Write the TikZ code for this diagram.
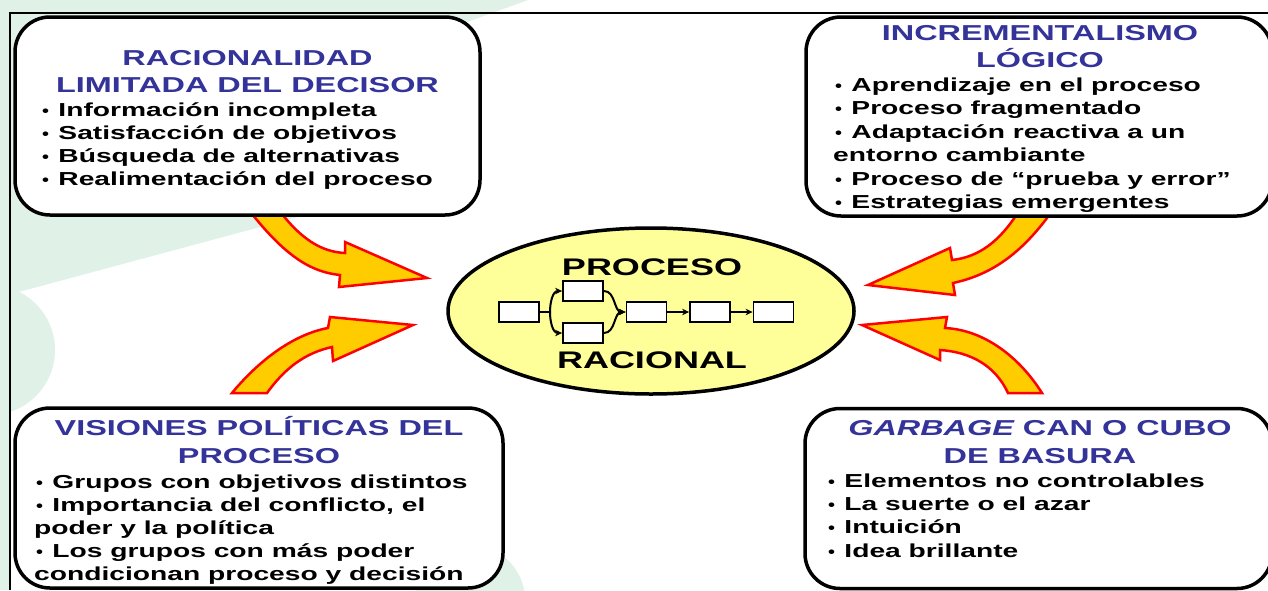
\documentclass[tikz,border=0pt]{standalone}
\usepackage{graphicx}
\usepackage{fontspec}
\setmainfont{Liberation Sans}[FakeStretch=1.5]
\usetikzlibrary{shapes.geometric,arrows.meta}
\definecolor{hblue}{RGB}{51,51,153}
\definecolor{bggreen}{RGB}{224,242,232}
\definecolor{ellfill}{RGB}{255,255,153}
\definecolor{arrfill}{RGB}{255,204,0}
\newcommand\bul{\scalebox{0.7}[0.85]{\textbullet}\hspace{1.5pt}}
\tikzset{
 box/.style={draw=black, fill=white, line width=3.5pt, rounded corners=35pt, inner sep=0pt},
 head/.style={font=\fontsize{21.6}{27}\selectfont\bfseries, text=hblue, inner sep=0pt, anchor=base},
 item/.style={font=\fontsize{18.8}{23}\selectfont\bfseries, inner sep=0pt, anchor=base west},
 bigarrow/.style={fill=arrfill, draw=red, line width=2.5pt, line join=miter},
 mini/.style={draw, fill=white, line width=1.8pt, minimum width=40pt, minimum height=20pt, inner sep=0pt},
 flow/.style={line width=2pt, -{Stealth[length=7pt,width=6.5pt]}},
 bigtext/.style={font=\fontsize{24}{28}\selectfont\bfseries, inner sep=0pt, anchor=base},
}
\begin{document}
\begin{tikzpicture}[x=1pt,y=-1pt]
\useasboundingbox (0,0) rectangle (1268,590);
\fill[white] (0,0) rectangle (1268,590);
% background decoration
\fill[bggreen] (0,0) -- (528,0) -- (445,30) -- (420,184) -- (0,297) -- cycle;
\fill[bggreen] (-10,350) circle[radius=65pt];
\fill[bggreen] (0,0) rectangle (10,590);
\fill[bggreen] (470,600) circle[radius=55pt];
% frame
\draw[line width=2.5pt] (10,590) -- (10,13) -- (1268,13);

% big curved arrows
\path[bigarrow] (252,214) .. controls (285,255) and (310,272) .. (340,275) -- (339,287) -- (427,278) -- (345,242) -- (345,253) .. controls (325,252) and (305,243) .. (282,214) -- cycle;
\path[bigarrow] (232,393) .. controls (255,365) and (290,335) .. (328,328) -- (330,317) -- (413,325) -- (333,361) -- (332,347) .. controls (305,353) and (285,368) .. (267,393) -- cycle;
\path[bigarrow] (1017,214) .. controls (1000,240) and (980,257) .. (952,260) -- (950,248) -- (868,285) -- (955,295) -- (953,283) .. controls (990,275) and (1020,255) .. (1050,214) -- cycle;
\path[bigarrow] (1008,393) .. controls (995,365) and (970,352) .. (940,350) -- (940,360) -- (862,325) -- (947,317) -- (945,328) .. controls (985,330) and (1020,358) .. (1042,393) -- cycle;

% central ellipse
\node[ellipse, draw, fill=ellfill, line width=3.5pt, minimum width=406pt, minimum height=166pt, inner sep=0pt] (ell) at (651,311) {};
\node[bigtext] (pro) at (652,275) {PROCESO};
\node[bigtext] (rac) at (652,368) {RACIONAL};
\node[mini] (b1) at (519,312) {};
\node[mini] (ub) at (583,291) {};
\node[mini] (lb) at (583,333) {};
\node[mini] (b3) at (646.5,312) {};
\node[mini] (b4) at (710,312) {};
\node[mini] (b5) at (773.5,312) {};
\coordinate (j1) at (550,312);
\draw[line width=2pt] (b1.east) -- (j1);
\draw[flow] (j1) to[out=90,in=180] (ub.west);
\draw[flow] (j1) to[out=-90,in=180] (lb.west);
\draw[flow] (ub.east) to[out=0,in=180] (b3.west);
\draw[flow] (lb.east) to[out=0,in=180] (b3.west);
\draw[flow] (b3) -- (b4);
\draw[flow] (b4) -- (b5);

% boxes
\node[box, minimum width=465pt, minimum height=198pt] (tl) at (247.5,116) {};
\node[box, minimum width=466pt, minimum height=199pt] (tr) at (1039,116.5) {};
\node[box, minimum width=488pt, minimum height=180pt] (bl) at (259,498) {};
\node[box, minimum width=467pt, minimum height=180pt] (br) at (1038.5,498.5) {};

% top-left text
\node[head] (tlh1) at (247.5,65) {RACIONALIDAD};
\node[head] (tlh2) at (247.5,92) {LIMITADA DEL DECISOR};
\node[item] (tli1) at (42,116) {\bul{} Información incompleta};
\node[item] (tli2) at (42,139) {\bul{} Satisfacción de objetivos};
\node[item] (tli3) at (42,162) {\bul{} Búsqueda de alternativas};
\node[item] (tli4) at (42,185) {\bul{} Realimentación del proceso};

% top-right text
\node[head] (trh1) at (1040,40) {INCREMENTALISMO};
\node[head] (trh2) at (1040,67) {LÓGICO};
\node[item] (tri1) at (835,91) {\bul{} Aprendizaje en el proceso};
\node[item] (tri2) at (835,114.5) {\bul{} Proceso fragmentado};
\node[item] (tri3) at (835,138) {\bul{} Adaptación reactiva a un};
\node[item] (tri4) at (833,161.5) {entorno cambiante};
\node[item] (tri5) at (835,185) {\bul{} Proceso de “prueba y error”};
\node[item] (tri6) at (835,208) {\bul{} Estrategias emergentes};

% bottom-left text
\node[head] (blh1) at (259,435) {VISIONES POLÍTICAS DEL};
\node[head] (blh2) at (259,463) {PROCESO};
\node[item] (bli1) at (36,488) {\bul{} Grupos con objetivos distintos};
\node[item] (bli2) at (36,511.5) {\bul{} Importancia del conflicto, el};
\node[item] (bli3) at (34,534) {poder y la política};
\node[item] (bli4) at (36,557) {\bul{} Los grupos con más poder};
\node[item] (bli5) at (34,580) {condicionan proceso y decisión};

% bottom-right text
\node[head] (brh1) at (1040,435) {{\itshape GARBAGE} CAN O CUBO};
\node[head] (brh2) at (1040,463) {DE BASURA};
\node[item] (bri1) at (828,487) {\bul{} Elementos no controlables};
\node[item] (bri2) at (828,510) {\bul{} La suerte o el azar};
\node[item] (bri3) at (828,533) {\bul{} Intuición};
\node[item] (bri4) at (828,557) {\bul{} Idea brillante};
\end{tikzpicture}
\end{document}
